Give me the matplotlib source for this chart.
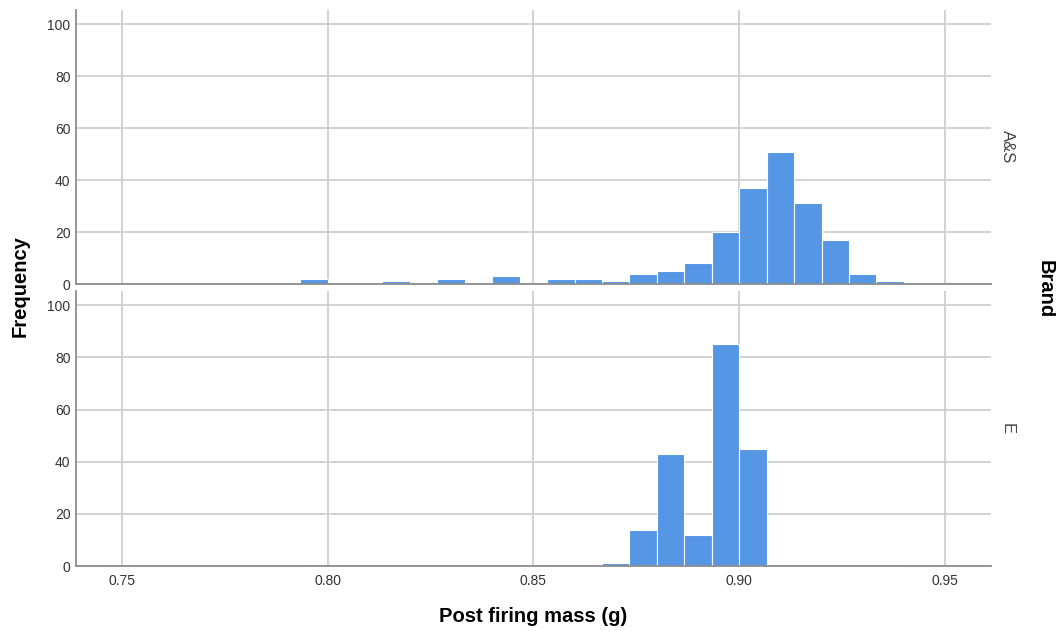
import matplotlib
matplotlib.use("Agg")
import matplotlib.pyplot as plt
import numpy as np

plt.rcParams['font.family'] = ['Liberation Sans', 'DejaVu Sans']

# Data
brands = ["A&S", "E"]
bin_start = 0.80 - 1 / 150
bin_width = 1 / 150
counts_AS = [2, 0, 0, 1, 0, 2, 0, 3, 0, 2, 2, 1, 4, 5, 8, 20, 37, 51, 31, 17, 4, 1]
counts_E = [0, 0, 0, 0, 0, 0, 0, 0, 0, 0, 0, 1, 14, 43, 12, 85, 45, 0, 0, 0, 0, 0]
x_ticks = [0.75, 0.80, 0.85, 0.90, 0.95]
x_tick_labels = ["0.75", "0.80", "0.85", "0.90", "0.95"]
y_ticks = [0, 20, 40, 60, 80, 100]

fig = plt.figure(figsize=(10.56, 6.31), dpi=100)
W, H = 1056, 631
left, right = 76 / W, 990.7 / W
panels = [(10, 284), (291, 566)]

bar_color = "#5596e5"
grid_color = "#cfcfcf"
spine_color = "#8c8c8c"

edges = bin_start + bin_width * np.arange(len(counts_AS) + 1)

axes = []
for i, (counts, (top, bot)) in enumerate(zip([counts_AS, counts_E], panels)):
    ax = fig.add_axes([left, 1 - bot / H, right - left, (bot - top) / H])
    ax.bar(edges[:-1], counts, width=bin_width, align='edge', color=bar_color,
           edgecolor="#ffffff", linewidth=0.8, zorder=3)
    ax.set_xlim(0.7389, 0.9611)
    ax.set_ylim(0, 105.5)
    ax.set_yticks(y_ticks)
    ax.set_xticks(x_ticks)
    ax.grid(True, color=grid_color, linewidth=1.3, zorder=0)
    ax.set_axisbelow(True)
    for s in ["top", "right"]:
        ax.spines[s].set_visible(False)
    for s in ["left", "bottom"]:
        ax.spines[s].set_color(spine_color)
        ax.spines[s].set_linewidth(1.3)
        ax.spines[s].set_zorder(4)
    ax.tick_params(axis='both', length=0, labelsize=10, colors="#333333", pad=6)
    ax.tick_params(axis='y', pad=4)
    if i == 0:
        ax.set_xticklabels([])
    else:
        ax.set_xticklabels(x_tick_labels)
        ax.tick_params(axis='x', pad=6)
    ax.text(1000 / W, 1 - (top + bot) / 2 / H, brands[i], transform=fig.transFigure,
            rotation=270, ha='left', va='center', fontsize=12, color="#444444")
    axes.append(ax)

fig.text(20 / W, 1 - 286 / H, "Frequency", rotation=90, ha='center', va='center',
         fontsize=14.5, fontweight='bold')
fig.text(533 / W, 1 - 617 / H, "Post firing mass (g)", ha='center', va='center',
         fontsize=14.5, fontweight='bold')
fig.text(1045 / W, 1 - 289 / H, "Brand", rotation=270, ha='center', va='center',
         fontsize=14.5, fontweight='bold')

fig.savefig("out.png", dpi=100)
